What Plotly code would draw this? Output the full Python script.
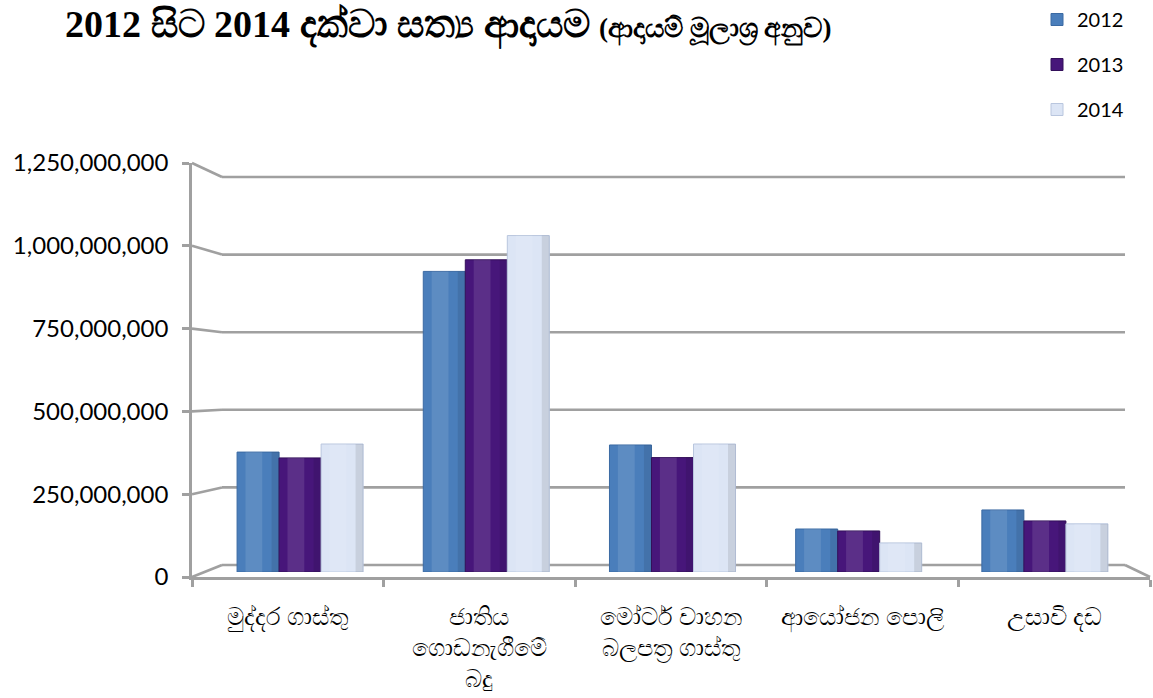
import plotly.graph_objects as go

# ---------------- data ----------------
categories = ["මුද්දර ගාස්තු", "ජාතිය ගොඩනැගීමේ බදු", "මෝටර් වාහන බලපත්‍ර ගාස්තු", "ආයෝජන පොලි", "උසාවි දඩ"]
category_labels = ["මුද්දර ගාස්තු", "ජාතිය<br>ගොඩනැගීමේ<br>බදු", "මෝටර් වාහන<br>බලපත්‍ර ගාස්තු", "ආයෝජන පොලි", "උසාවි දඩ"]
years = ["2012", "2013", "2014"]
values_2012 = [371e6, 930e6, 393e6, 133e6, 192e6]
values_2013 = [353e6, 966e6, 354e6, 127e6, 158e6]
values_2014 = [396e6, 1041e6, 396e6, 90e6, 149e6]
y_ticks = [0, 250e6, 500e6, 750e6, 1000e6, 1250e6]
y_max = 1.25e9

# ---------------- geometry helpers ----------------
W, H = 1153, 698
def px(x):
    return x / W
def py(y):
    return 1 - y / H

FX0, FX1, FY_TOP, FY0 = 192, 1150, 163, 577   # front frame
BX0, BX1, BY_TOP, BY0 = 222, 1125, 177, 565   # back wall
BAR_X0, BAR_X1, BAR_TOP, BAR_Y0 = 207, 1138, 168, 572

def front_y(v):
    return FY0 - v / y_max * (FY0 - FY_TOP)
def back_y(v):
    return BY0 - v / y_max * (BY0 - BY_TOP)

GRID = "#a0a0a0"
LW = 2.6
GAP = 0.323
BW = (1 - GAP) / 3

fig = go.Figure()

colors = {"2012": "#4a7ebb", "2013": "#47167a", "2014": "#dce5f5"}
lines = {"2012": "#3b6aa3", "2013": "#33105a", "2014": "#b9c6de"}
for i, (yr, vals) in enumerate(zip(years, [values_2012, values_2013, values_2014])):
    off = -(1 - GAP) / 2 + i * BW
    fig.add_trace(go.Bar(
        x=categories, y=vals, name=yr, legendgroup=yr,
        width=BW, offset=off,
        marker=dict(color=colors[yr], line=dict(color=lines[yr], width=1)),
        xaxis="x", yaxis="y",
    ))
    # cylinder shading (same values, narrower bands)
    fig.add_trace(go.Bar(
        x=categories, y=vals, legendgroup=yr, showlegend=False, hoverinfo="skip",
        width=BW * 0.4, offset=off + BW * 0.2,
        marker=dict(color="rgba(255,255,255,0.11)", line=dict(width=0)),
        xaxis="x", yaxis="y",
    ))
    fig.add_trace(go.Bar(
        x=categories, y=vals, legendgroup=yr, showlegend=False, hoverinfo="skip",
        width=BW * 0.18, offset=off + BW * 0.82,
        marker=dict(color="rgba(0,0,0,0.09)", line=dict(width=0)),
        xaxis="x", yaxis="y",
    ))

# carrier for the front axes
fig.add_trace(go.Scatter(x=categories, y=values_2012, xaxis="x2", yaxis="y2",
                         mode="markers", marker=dict(opacity=0), showlegend=False,
                         hoverinfo="skip"))

shapes = []
for v in y_ticks:
    shapes.append(dict(type="line", xref="paper", yref="paper", layer="below",
                       x0=px(BX0), x1=px(BX1), y0=py(back_y(v)), y1=py(back_y(v)),
                       line=dict(color=GRID, width=LW)))
    shapes.append(dict(type="line", xref="paper", yref="paper", layer="below",
                       x0=px(FX0), x1=px(BX0), y0=py(front_y(v)), y1=py(back_y(v)),
                       line=dict(color=GRID, width=LW)))
shapes.append(dict(type="line", xref="paper", yref="paper", layer="below",
                   x0=px(BX1), x1=px(FX1), y0=py(BY0), y1=py(FY0),
                   line=dict(color=GRID, width=LW)))

title_text = ("<b>2012 සිට 2014 දක්වා සත්‍ය ආදායම</b> "
              "<b><span style='font-size:27px'>(ආදායම් මූලාශ්‍ර අනුව)</span></b>")

fig.update_layout(
    width=W, height=H,
    margin=dict(l=0, r=0, t=0, b=0, autoexpand=False),
    paper_bgcolor="white", plot_bgcolor="rgba(0,0,0,0)",
    barmode="overlay",
    showlegend=True,
    legend=dict(x=px(1037), y=1, xanchor="left", yanchor="top",
                font=dict(family="Lato", size=20, color="black"),
                tracegroupgap=16, bgcolor="rgba(0,0,0,0)"),
    font=dict(family="Lato", color="black"),
    xaxis=dict(domain=[px(BAR_X0), px(BAR_X1)], anchor="y", type="category",
               categoryarray=categories, range=[-0.5, 4.5], visible=False, automargin=False),
    yaxis=dict(domain=[py(BAR_Y0), py(BAR_TOP)], anchor="x", range=[0, y_max], visible=False,
               automargin=False),
    xaxis2=dict(domain=[px(FX0), px(FX1)], anchor="y2", type="category",
                categoryarray=categories, range=[-0.5, 4.5], automargin=False,
                tickmode="array", tickvals=categories, ticktext=category_labels,
                tickson="boundaries", ticks="outside", ticklen=7, tickwidth=LW, tickcolor=GRID,
                showline=True, linecolor=GRID, linewidth=LW, showgrid=False, zeroline=False,
                ticklabelstandoff=16,
                tickfont=dict(family="Noto Sans, Lato", size=24, color="black")),
    yaxis2=dict(domain=[py(FY0), py(FY_TOP)], anchor="x2", range=[0, y_max], automargin=False,
                tickmode="array", tickvals=y_ticks, tickformat=",d",
                ticks="outside", ticklen=7, tickwidth=LW, tickcolor=GRID,
                showline=True, linecolor=GRID, linewidth=LW, showgrid=False, zeroline=False,
                ticklabelstandoff=9,
                tickfont=dict(family="Lato", size=24, color="black")),
    shapes=shapes,
    annotations=[dict(text=title_text, xref="paper", yref="paper", x=px(63), y=py(26),
                      xanchor="left", yanchor="middle", showarrow=False,
                      font=dict(family="Liberation Serif", size=38, color="black"))],
)

fig.write_html("out.html", config={"displayModeBar": False},
               post_script="document.body.style.margin='0px';")
